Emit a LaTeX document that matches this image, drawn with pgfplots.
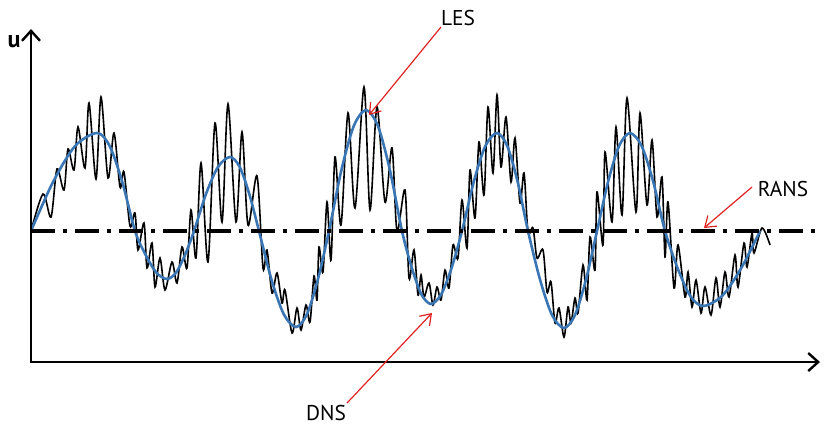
\documentclass[border=0pt]{standalone}
\usepackage{pgfplots}
\pgfplotsset{compat=1.18}
\usetikzlibrary{arrows.meta}
\usepackage{fontspec}
\setmainfont{PT Sans}
\definecolor{lesblue}{RGB}{58,118,180}
\definecolor{arrred}{RGB}{225,35,35}
\begin{document}
\begin{tikzpicture}
\begin{axis}[width=414pt,height=212.5pt,scale only axis,
  xmin=0,xmax=828,ymin=0,ymax=425,y dir=reverse,
  axis lines=none,ticks=none,clip=false]
% DNS
\addplot[black,line width=0.8pt,smooth,tension=0.5] coordinates {
(31,231) (43,194) (51,217) (57,169) (64,190) (68,149) (74,170) (78,127) (85,168) (89,103) (96,179) (101,97) (108,178) (114,133) (120,187) (124,172) (130,226) (135,213) (138,250) (144,223) (147,268) (152,243) (155,287) (160,258) (165,290) (172,262) (177,283) (182,247) (187,268) (191,210) (196,258) (201,163) (208,262) (215,123) (222,222) (228,104) (236,222) (242,132) (248,225) (257,176) (263,268) (267,250) (272,293) (277,273) (282,303) (285,290) (292,333) (297,308) (301,330) (306,305) (310,322) (314,276) (317,300) (319,247) (323,272) (327,202) (331,260) (335,157) (341,225) (348,113) (355,208) (364,87) (370,210) (377,107) (385,202) (392,148) (397,231) (405,190) (409,278) (414,250) (418,295) (421,275) (424,297) (429,283) (433,305) (437,287) (441,300) (445,270) (449,288) (453,245) (458,258) (462,200) (467,248) (470,170) (475,218) (479,142) (484,195) (488,107) (493,173) (497,95) (501,167) (506,117) (511,182) (515,138) (520,203) (524,173) (528,232) (533,228) (537,258) (543,250) (547,292) (551,282) (555,323) (559,308) (564,337) (568,307) (571,323) (575,298) (578,313) (583,265) (587,300) (590,237) (595,270) (597,192) (603,245) (605,152) (612,222) (616,127) (622,215) (627,98) (636,212) (640,113) (647,205) (652,140) (657,217) (662,177) (665,257) (668,202) (674,288) (678,245) (685,297) (688,272) (692,307) (696,280) (701,313) (705,287) (711,315) (716,278) (720,307) (725,272) (729,297) (735,255) (738,287) (744,243) (747,267) (752,233) (754,253) (762,228) (770,245)
};
% LES
\addplot[lesblue,line width=1.3pt,smooth] coordinates {
(31,231) (53,182) (75,146.1) (97,133) (109.7,146.1) (122.3,182) (135,231) (145.7,255) (156.3,272.6) (167,279) (176,272.6) (185,255) (194,231) (206,194) (218,166.9) (230,157) (239.7,166.9) (249.3,194) (259,231) (271.3,279) (283.7,314.1) (296,327) (307,314.1) (318,279) (329,231) (341.3,170.5) (353.7,126.2) (366,110) (378,126.2) (390,170.5) (402,231) (411.7,267.5) (421.3,294.2) (431,304) (441.3,294.2) (451.7,267.5) (462,231) (473.7,182) (485.3,146.1) (497,133) (507.3,146.1) (517.7,182) (528,231) (540,279.5) (552,315) (564,328) (575,315) (586,279.5) (597,231) (608,182) (619,146.1) (630,133) (641.7,146.1) (653.3,182) (665,231) (677.7,268.5) (690.3,296) (703,306) (722,296) (741,268.5) (760,231)
};
% RANS
\addplot[black,line width=1.8pt,dash pattern=on 12pt off 4pt on 2pt off 4pt] coordinates {(31,231) (822,231)};
% axes
\addplot[black,line width=1.2pt,-{Straight Barb[length=5pt,width=9pt]}] coordinates {(31,362) (31,29)};
\addplot[black,line width=1.2pt,-{Straight Barb[length=5pt,width=9pt]}] coordinates {(30,362) (820,362)};
% annotation arrows
\addplot[arrred,line width=0.6pt,-{Straight Barb[length=5pt,width=7pt]}] coordinates {(441,27) (369,115)};
\addplot[arrred,line width=0.6pt,-{Straight Barb[length=5pt,width=7pt]}] coordinates {(752,187) (704,228)};
\addplot[arrred,line width=0.6pt,-{Straight Barb[length=5pt,width=7pt]}] coordinates {(347,403) (432,313)};
\node[font=\fontsize{10.7pt}{12pt}\selectfont] at (axis cs:458,18) {LES};
\node[font=\fontsize{10.7pt}{12pt}\selectfont] at (axis cs:783,189) {RANS};
\node[font=\fontsize{10.7pt}{12pt}\selectfont] at (axis cs:326,413) {DNS};
\node[font=\fontsize{12pt}{14pt}\selectfont\bfseries] at (axis cs:14,42) {u};
\end{axis}
\pgfresetboundingbox
\path[use as bounding box] (current axis.south west) rectangle (current axis.north east);
\end{tikzpicture}
\end{document}
